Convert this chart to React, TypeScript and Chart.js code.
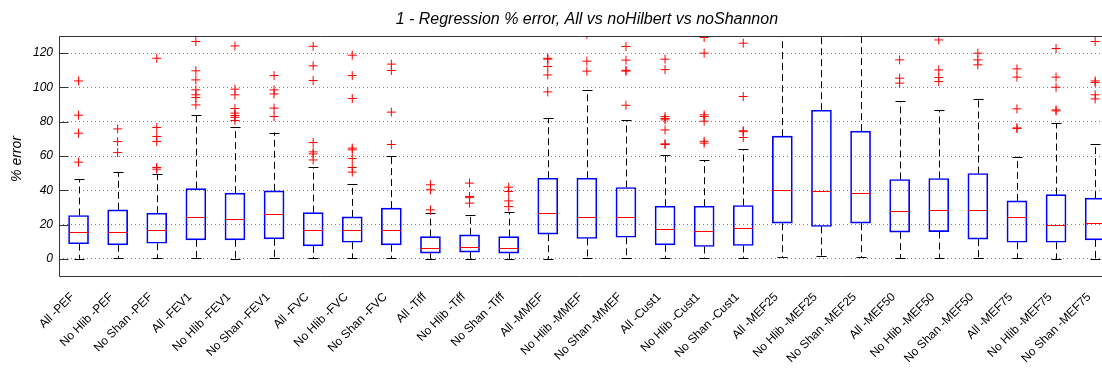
import React, { useEffect, useRef } from 'react';
import { Chart, registerables } from 'chart.js';

Chart.register(...registerables);

const categories = [
  'All -PEF', 'No Hlib -PEF', 'No Shan -PEF',
  'All -FEV1', 'No Hlib -FEV1', 'No Shan -FEV1',
  'All -FVC', 'No Hlib -FVC', 'No Shan -FVC',
  'All -Tiff', 'No Hlib -Tiff', 'No Shan -Tiff',
  'All -MMEF', 'No Hlib -MMEF', 'No Shan -MMEF',
  'All -Cust1', 'No Hlib -Cust1', 'No Shan -Cust1',
  'All -MEF25', 'No Hlib -MEF25', 'No Shan -MEF25',
  'All -MEF50', 'No Hlib -MEF50', 'No Shan -MEF50',
  'All -MEF75', 'No Hlib -MEF75', 'No Shan -MEF75',
];

const lowerWhisker = [0, 0.4, 0.4, 0.4, 0, 0.4, 0.4, 0.4, 0.4, 0, 0, 0, 0, 0.4, 0.4, 0.4, 0.4, 0.4, 0.8, 1.6, 0.8, 0.4, 0.4, 0.4, 0.4, 0, 0];
const q1 = [8.8, 8.2, 9.1, 11.1, 11.1, 11.7, 7.6, 9.7, 8.2, 3.3, 3.9, 3.3, 14.4, 11.9, 12.6, 8.2, 7.2, 7.8, 20.8, 18.9, 20.8, 15.6, 15.9, 11.5, 9.7, 9.7, 11.1];
const median = [15.9, 15.9, 16.7, 24.3, 23.3, 26.1, 17.1, 17.1, 16.9, 6.6, 7.2, 6.2, 26.6, 24.7, 24.7, 17.3, 16.3, 17.9, 40, 39.3, 38.3, 28.2, 28.6, 28.6, 24.3, 19.6, 21.2];
const q3 = [25.3, 28.6, 26.6, 41, 38.3, 39.7, 27, 24.5, 29.6, 13, 14, 13, 47, 47, 41.6, 30.7, 30.7, 31.1, 71.6, 86.7, 74.5, 46.3, 46.9, 49.8, 33.8, 37.5, 35.4];
const upperWhisker = [46.5, 50.6, 49.4, 83.8, 76.8, 73.7, 53.3, 43.6, 60.1, 26.7, 25.5, 27.2, 81.9, 98.6, 80.9, 60.5, 57.4, 64, 140, 140, 140, 91.8, 86.9, 93.3, 59.7, 79.1, 67.1];
const outliers: number[][] = [
  [103.8, 83.8, 73.3, 56.4],
  [75.8, 68.4, 62],
  [117, 76.6, 71.4, 68.4, 53.3, 52.3],
  [126.8, 109.7, 104.4, 98.6, 95.7, 94.1, 89.8],
  [124.2, 99, 95.7, 87.7, 85, 83.6, 82.6, 80.7],
  [106.9, 98.6, 96.2, 87.9, 83],
  [124, 112.6, 104, 67.9, 62.4, 61.2, 57.7],
  [118.8, 106.9, 93.5, 64.6, 63.6, 58.5, 53.3, 50.6],
  [113.6, 109.9, 85.6, 66.7],
  [43.2, 40.3, 28.6],
  [44.2, 36.4, 35.7, 32.5],
  [41.8, 39.3, 33.8, 30.5],
  [117, 116.5, 112.2, 107.3, 97.4],
  [131, 115.3, 109.5],
  [123.9, 115.9, 110, 109.5, 89.6],
  [116.5, 110.4, 83, 81.9, 81.1, 75.2, 67.1, 66.7],
  [129.1, 120, 84, 83, 80.3, 68.6, 67.5],
  [125.8, 94.7, 74.7, 74.2, 70.8],
  [],
  [],
  [],
  [116.1, 105.4, 102.5],
  [127.7, 110.2, 105.8, 103.4],
  [120, 116.1, 113.2],
  [110.8, 106, 87.5, 76.4, 76],
  [122.7, 106, 100.1, 86.9, 86.3],
  [126.8, 103.8, 102.9, 95.7, 93.3],
];
const yTicks = [0, 20, 40, 60, 80, 100, 120];
const titleText = '1 - Regression % error, All vs noHilbert vs noShannon';
const yAxisTitle = '% error';

const FONT = '"Liberation Sans", Arial, sans-serif';

const boxPlugin = {
  id: 'boxParts',
  beforeDatasetsDraw(chart: any) {
    const { ctx, chartArea: a, scales } = chart;
    const xs = scales.x, ys = scales.y;
    ctx.save();
    ctx.beginPath();
    ctx.rect(a.left, a.top, a.right - a.left, a.bottom - a.top);
    ctx.clip();
    ctx.strokeStyle = '#000';
    ctx.lineWidth = 1;
    categories.forEach((_, i) => {
      const x = Math.round(xs.getPixelForValue(i)) + 0.5;
      ctx.setLineDash([7, 4]);
      ctx.beginPath();
      ctx.moveTo(x, ys.getPixelForValue(q3[i]));
      ctx.lineTo(x, ys.getPixelForValue(upperWhisker[i]));
      ctx.moveTo(x, ys.getPixelForValue(q1[i]));
      ctx.lineTo(x, ys.getPixelForValue(lowerWhisker[i]));
      ctx.stroke();
      ctx.setLineDash([]);
      ctx.beginPath();
      const yu = Math.round(ys.getPixelForValue(upperWhisker[i])) + 0.5;
      const yl = Math.round(ys.getPixelForValue(lowerWhisker[i])) + 0.5;
      ctx.moveTo(x - 5, yu); ctx.lineTo(x + 5, yu);
      ctx.moveTo(x - 5, yl); ctx.lineTo(x + 5, yl);
      ctx.stroke();
    });
    ctx.restore();
  },
  afterDatasetsDraw(chart: any) {
    const { ctx, chartArea: a, scales } = chart;
    const xs = scales.x, ys = scales.y;
    ctx.save();
    ctx.beginPath();
    ctx.rect(a.left, a.top, a.right - a.left, a.bottom - a.top);
    ctx.clip();
    ctx.strokeStyle = '#ff0000';
    ctx.lineWidth = 1;
    categories.forEach((_, i) => {
      const x = Math.round(xs.getPixelForValue(i));
      const y = Math.round(ys.getPixelForValue(median[i])) + 0.5;
      ctx.beginPath();
      ctx.moveTo(x - 10, y);
      ctx.lineTo(x + 10, y);
      ctx.stroke();
    });
    ctx.restore();
  },
  afterDraw(chart: any) {
    const { ctx, chartArea: a, scales } = chart;
    const xs = scales.x, ys = scales.y;
    ctx.save();
    ctx.strokeStyle = '#333';
    ctx.lineWidth = 1;
    ctx.beginPath();
    const L = Math.round(a.left) + 0.5;
    const T = Math.round(a.top) + 0.5;
    const B = Math.round(a.bottom) + 0.5;
    ctx.moveTo(a.right, T); ctx.lineTo(L, T); ctx.lineTo(L, B); ctx.lineTo(a.right, B);
    yTicks.forEach((v) => {
      const y = Math.round(ys.getPixelForValue(v)) + 0.5;
      ctx.moveTo(L, y); ctx.lineTo(L + 9, y);
    });
    ctx.stroke();
    // title
    ctx.fillStyle = '#000';
    ctx.font = `italic 16px ${FONT}`;
    ctx.textAlign = 'center';
    ctx.textBaseline = 'middle';
    ctx.fillText(titleText, xs.getPixelForValue((categories.length - 1) / 2), 20);
    // y title
    ctx.translate(17, (a.top + a.bottom) / 2 + 3);
    ctx.rotate(-Math.PI / 2);
    ctx.font = `italic 14px ${FONT}`;
    ctx.fillText(yAxisTitle, 0, 0);
    ctx.restore();
  },
};

export default function App() {
  const ref = useRef<HTMLCanvasElement | null>(null);
  useEffect(() => {
    if (!ref.current) return;
    Chart.defaults.font.family = FONT;
    const outlierPoints = outliers.flatMap((arr, i) => arr.map((v) => ({ x: i, y: v })));
    const chart = new Chart(ref.current, {
      type: 'bar',
      data: {
        datasets: [
          {
            type: 'bar',
            data: categories.map((_, i) => ({ x: i, y: [q1[i], q3[i]] })) as any,
            backgroundColor: 'rgba(0,0,0,0)',
            borderColor: '#0000ff',
            borderWidth: 1,
            borderSkipped: false,
            barThickness: 20,
          } as any,
          {
            type: 'scatter',
            data: outlierPoints,
            pointStyle: 'cross',
            radius: 4.5,
            borderColor: '#ff0000',
            borderWidth: 1,
            clip: 0,
          } as any,
        ],
      },
      options: {
        animation: false,
        responsive: true,
        maintainAspectRatio: false,
        layout: { autoPadding: false, padding: { top: 36, left: 0, right: 0, bottom: 0 } },
        plugins: { legend: { display: false }, tooltip: { enabled: false }, title: { display: false } },
        scales: {
          x: {
            type: 'linear',
            min: -0.5,
            max: 26.175,
            offset: false,
            grid: { display: false, offset: false },
            border: { display: false },
            afterBuildTicks: (s: any) => { s.ticks = categories.map((_, i) => ({ value: i })); },
            afterFit: (s: any) => { s.height = 93; s.paddingRight = 0; s.paddingLeft = 0; },
            ticks: {
              autoSkip: false,
              minRotation: 45,
              maxRotation: 45,
              color: '#000',
              font: { size: 12 },
              padding: 6,
              labelOffset: -6,
              callback: (v: any) => categories[v] ?? '',
            },
          },
          y: {
            type: 'linear',
            min: -10,
            max: 130,
            afterBuildTicks: (s: any) => { s.ticks = yTicks.map((v) => ({ value: v })); },
            afterFit: (s: any) => { s.width = 59; },
            grid: { color: '#808080', drawTicks: false },
            border: { display: false, dash: [1, 3] },
            ticks: { color: '#000', font: { size: 12, style: 'italic' }, padding: 6 },
          },
        },
      } as any,
      plugins: [boxPlugin],
    });
    return () => chart.destroy();
  }, []);
  return (
    <div style={{ position: 'absolute', left: 0, top: 0, width: 1102, height: 369, background: '#fff' }}>
      <canvas ref={ref} />
    </div>
  );
}
